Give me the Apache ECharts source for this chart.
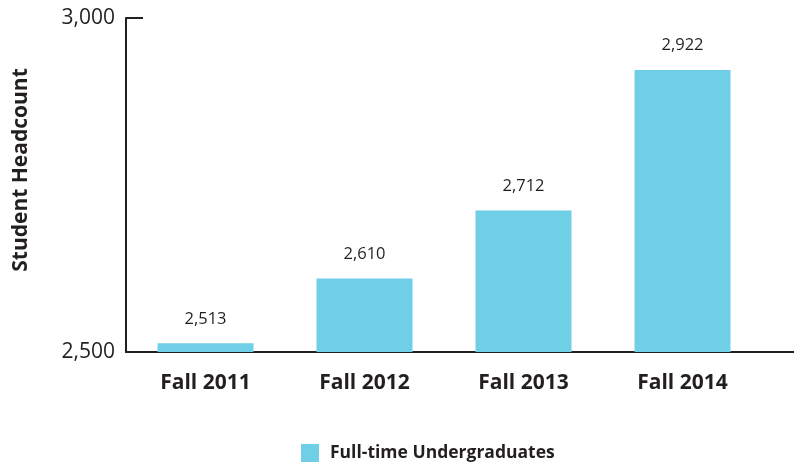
<!DOCTYPE html>
<html>
<head>
<meta charset="utf-8">
<script src="https://cdn.jsdelivr.net/npm/echarts@6/dist/echarts.min.js"></script>
<style>
  html, body { margin: 0; padding: 0; background: #fff; }
  #chart { width: 794px; height: 464px; }
</style>
</head>
<body>
<div id="chart"></div>
<script>
// 学期
const terms = ['Fall 2011', 'Fall 2012', 'Fall 2013', 'Fall 2014'];
// 全日制本科生人数
const headcount = [2513, 2610, 2712, 2922];
const seriesName = 'Full-time Undergraduates';
const yMin = 2500;
const yMax = 3000;

const ink = '#231f20';
const chart = echarts.init(document.getElementById('chart'));

const option = {
    animation: false,
    grid: {
        top: 18,
        bottom: 112,
        left: 126,
        right: 32,
        outerBoundsMode: 'none'
    },
    legend: {
        data: [seriesName],
        left: 296,
        top: 439,
        icon: 'rect',
        itemWidth: 18,
        itemHeight: 18,
        textStyle: {
            fontFamily: 'Open Sans',
            fontWeight: 'bold',
            fontSize: 17.5,
            color: ink,
            padding: [0, 0, 0, 6]
        }
    },
    xAxis: {
        type: 'category',
        data: terms,
        axisLine: { lineStyle: { color: ink, width: 2 } },
        axisTick: { show: false },
        axisLabel: {
            margin: 21,
            fontFamily: 'Open Sans',
            fontWeight: 'bold',
            fontSize: 21,
            color: ink
        }
    },
    yAxis: {
        type: 'value',
        min: yMin,
        max: yMax,
        interval: 500,
        name: 'Student Headcount',
        nameLocation: 'middle',
        nameGap: 94,
        nameTextStyle: {
            fontFamily: 'Open Sans',
            fontWeight: 'bold',
            fontSize: 21,
            color: ink,
            padding: [0, 0, 0, 30]
        },
        axisLine: { show: true, lineStyle: { color: ink, width: 2 } },
        axisTick: { show: true, inside: true, length: 17, lineStyle: { color: ink, width: 2 } },
        splitLine: { show: false },
        axisLabel: {
            margin: 11,
            fontFamily: 'Open Sans',
            fontSize: 21,
            color: ink,
            formatter: v => v.toLocaleString('en-US')
        }
    },
    series: [{
        name: seriesName,
        type: 'bar',
        data: headcount,
        barWidth: 96,
        itemStyle: { color: '#6ecfe6' },
        label: {
            show: true,
            position: 'top',
            distance: 16,
            fontFamily: 'Open Sans',
            fontSize: 16.5,
            color: ink,
            formatter: p => p.value.toLocaleString('en-US')
        }
    }],
    graphic: [{
        // 横轴线延伸到右边缘
        type: 'line',
        shape: { x1: 762, y1: 352, x2: 794, y2: 352 },
        style: { stroke: ink, lineWidth: 2 }
    }]
};

chart.setOption(option);
</script>
</body>
</html>
